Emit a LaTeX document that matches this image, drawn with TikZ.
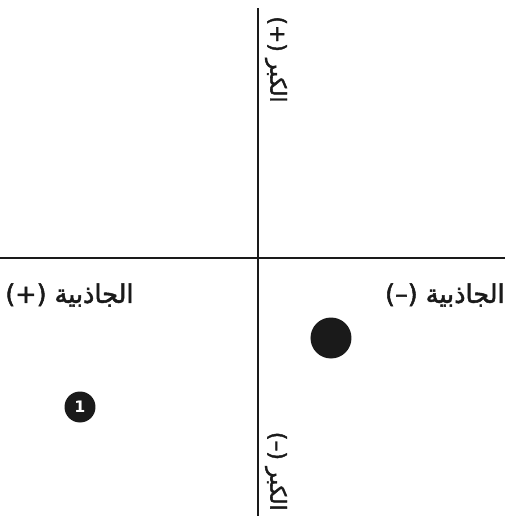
\documentclass[tikz,border=0pt]{standalone}
\usepackage{fontspec}
\usepackage{tikz}
\usetikzlibrary{positioning}
\TeXXeTstate=1
\newfontfamily\arabicfont[Script=Arabic, FakeBold=2]{DejaVu Sans}
\newfontfamily\digitfont{DejaVu Sans Bold}
\definecolor{inkblack}{HTML}{1A1A1A}
\tikzset{
  axisline/.style={inkblack, line width=1.3pt},
  axislabel/.style={inner sep=0pt, font=\arabicfont\fontsize{14.5}{16}\selectfont, text=inkblack},
  sidelabel/.style={axislabel, rotate=-90, font=\arabicfont\fontsize{12.5}{14}\selectfont},
  bigdot/.style={circle, fill=inkblack, minimum size=0.82cm, inner sep=0pt},
  smalldot/.style={circle, fill=inkblack, minimum size=0.62cm, inner sep=0pt, text=white, font=\digitfont\small}
}
\begin{document}
\begin{tikzpicture}
  \useasboundingbox (0,0) rectangle (10.1,10.32);
  % axes
  \coordinate (top) at (5.16,10.16);
  \coordinate (bottom) at (5.16,0);
  \coordinate (left) at (0,5.16);
  \coordinate (right) at (10.1,5.16);
  \draw[axisline] (top) -- (bottom);
  \draw[axisline] (left) -- (right);
  % labels
  \node[axislabel, anchor=west] (attrplus) at (0.1,4.42) {(+) \beginR الجاذبية\endR};
  \node[axislabel, anchor=east] (attrminus) at (10.1,4.42) {(–) \beginR الجاذبية\endR};
  \node[sidelabel, anchor=west] (sizeplus) at (5.52,10.0) {(+) \beginR الكبر\endR};
  \node[sidelabel, anchor=east] (sizeminus) at (5.52,0.1) {(–) \beginR الكبر\endR};
  % points
  \node[bigdot] (pointa) at (6.62,3.56) {};
  \node[smalldot] (pointb) at (1.6,2.18) {1};
\end{tikzpicture}
\end{document}
